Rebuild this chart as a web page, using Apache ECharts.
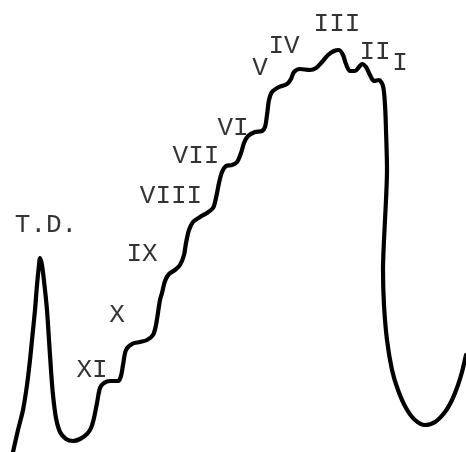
<!DOCTYPE html>
<html><head><meta charset="utf-8">
<script src="https://cdn.jsdelivr.net/npm/echarts@6/dist/echarts.min.js"></script>
<style>html,body{margin:0;padding:0;background:#fff}#c{width:466px;height:452px}</style>
</head><body><div id="c"></div>
<script>
// elution position (arbitrary units, left -> right)
const position = [13,18,23,27,30,32,35,37,39,40,42,45,47,49,51,53,56,60,66,73,80,87,91,94,97,100,104,110,118,121,123,126,132,140,147,153,156,160,162,165,169,175,180,184,186,189,193,200,207,213,216,219,222,226,232,237,241,244,248,255,262,265,267,269,272,279,287,291,294,300,310,316,322,328,334,339,343,346,350,355,359,362,366,370,374,379,383,385,386,387,386,384,383,384,387,392,398,406,415,425,435,445,452,458,462,466];
// detector signal (arbitrary units)
const signal = [0,22,42,67,92,112,142,167,187,194,187,162,142,112,82,57,34,20,13,11,13,18,24,34,49,64,69,71,71,76,87,102,108,110,112,117,127,152,159,171,178,182,187,197,209,222,230,235,239,244,254,269,280,286,287,290,299,309,316,320,321,325,337,352,360,365,368,373,380,383,382,384,390,397,401,402,397,388,381,381,385,388,385,377,371,372,366,347,322,282,252,212,182,147,112,82,62,44,32,27,30,40,52,67,80,97];
// band labels and where they sit (position, signal)
const bandNames = ["T.D.","XI","X","IX","VIII","VII","VI","V","IV","III","II","I"];
const bandPos = [46,92,117,142,171,196,233,260,284,337,375,400];
const bandSig = [227,82,137,198,256,296,324,384,406,428,400,389];

const curve = position.map((x,i)=>[x,signal[i]]);
const labels = bandNames.map((n,i)=>({name:n,value:[bandPos[i],bandSig[i]]}));

const chart = echarts.init(document.getElementById('c'),null,{renderer:'canvas'});
chart.setOption({
  animation:false,
  backgroundColor:'#fff',
  grid:{left:0,right:0,top:0,bottom:0},
  xAxis:{type:'value',min:0,max:466,show:false},
  yAxis:{type:'value',min:0,max:452,show:false},
  series:[
    {type:'line',data:curve,smooth:0.3,symbol:'none',
     lineStyle:{color:'#000',width:4.2,cap:'round',join:'round'}},
    {type:'scatter',data:labels,symbolSize:0,
     label:{show:true,position:'inside',formatter:p=>p.name,
       fontFamily:'Liberation Mono',fontSize:26,color:'#000'}}
  ]
});
</script></body></html>
